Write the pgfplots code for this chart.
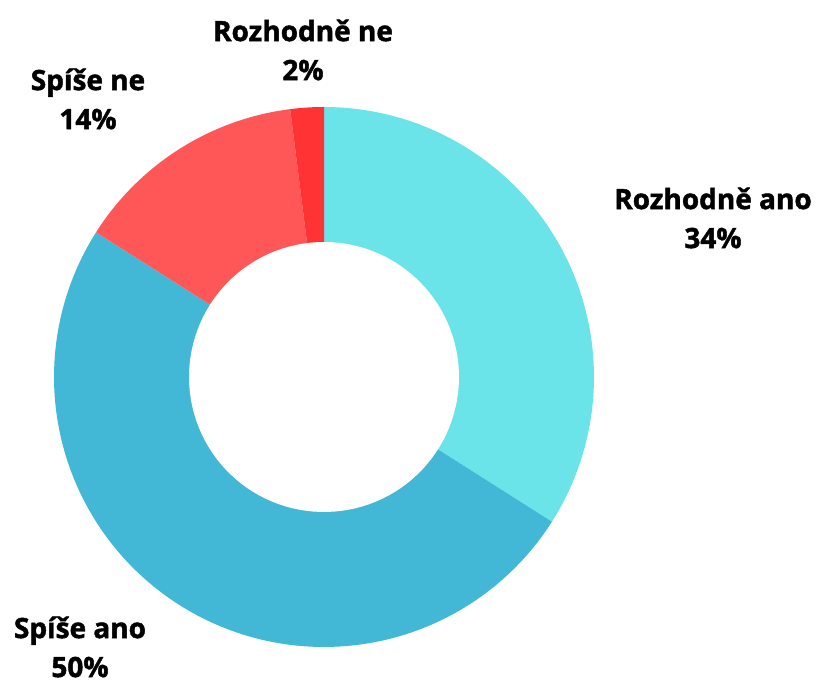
\documentclass[border=0pt]{standalone}
\usepackage{pgfplots}
\pgfplotsset{compat=1.18}
\usepackage{fontspec}
\setmainfont{Open Sans}[BoldFeatures={FakeBold=1.6}]
\definecolor{cA}{HTML}{6AE4E8}
\definecolor{cB}{HTML}{42B8D6}
\definecolor{cC}{HTML}{FF5757}
\definecolor{cD}{HTML}{FF3333}
\begin{document}
\begin{tikzpicture}
\begin{axis}[name=ax, scale only axis, width=816pt, height=684pt,
  xmin=0, xmax=816, ymin=0, ymax=684, hide axis, clip=false]
% values (percent): 34, 50, 14, 2 ; angle = 3.6*percent, clockwise from top
\addplot[fill=cA, draw=none, domain={0}:{3.6*34}, samples=80] ({324+270*sin(x)},{307+270*cos(x)}) -- (axis cs:324,307) -- cycle;
\addplot[fill=cB, draw=none, domain={3.6*34}:{3.6*(34+50)}, samples=100] ({324+270*sin(x)},{307+270*cos(x)}) -- (axis cs:324,307) -- cycle;
\addplot[fill=cC, draw=none, domain={3.6*84}:{3.6*(84+14)}, samples=40] ({324+270*sin(x)},{307+270*cos(x)}) -- (axis cs:324,307) -- cycle;
\addplot[fill=cD, draw=none, domain={3.6*98}:{3.6*100}, samples=10] ({324+270*sin(x)},{307+270*cos(x)}) -- (axis cs:324,307) -- cycle;
\addplot[fill=white, draw=none, domain=0:360, samples=120] ({324+135*sin(x)},{307+135*cos(x)}) -- cycle;
\tikzset{lab/.style={align=center, inner sep=0pt, font=\fontsize{28}{39}\selectfont\bfseries}}
\node[lab] at (axis cs:713,466) {Rozhodně ano\\34\%};
\node[lab] at (axis cs:80,37) {Spíše ano\\50\%};
\node[lab] at (axis cs:88,585) {Spíše ne\\14\%};
\node[lab] at (axis cs:303,634) {Rozhodně ne\\2\%};
\end{axis}
\path (ax.south west) rectangle (ax.north east);
\end{tikzpicture}
\end{document}
